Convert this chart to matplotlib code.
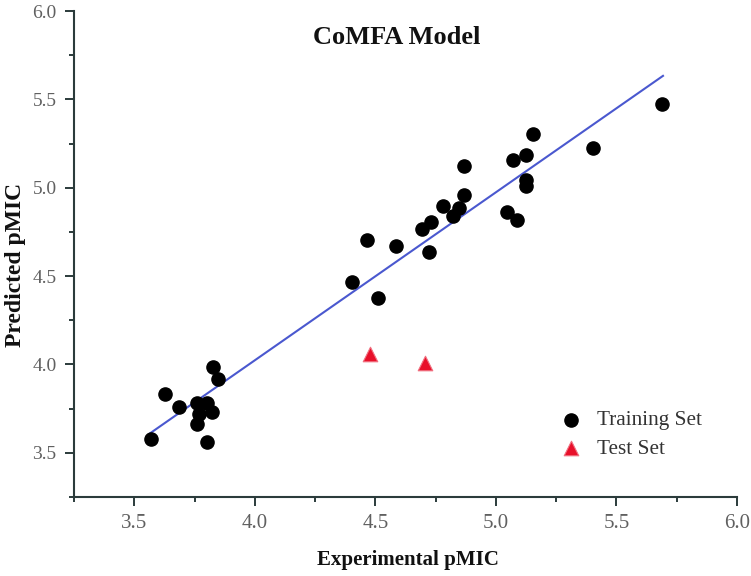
import matplotlib
matplotlib.use("Agg")
import matplotlib.pyplot as plt
from matplotlib.ticker import MultipleLocator, FormatStrFormatter

# Training set (experimental, predicted)
train_exp = [3.568, 3.629, 3.684, 3.759, 3.801, 3.821, 3.770, 3.762, 3.803, 3.828, 3.849,
             4.402, 4.513, 4.465, 4.586, 4.723, 4.693, 4.729, 4.780, 4.848, 4.824,
             4.868, 4.868, 5.069, 5.126, 5.153, 5.126, 5.126, 5.048, 5.089, 5.402, 5.690]
train_pred = [3.581, 3.834, 3.757, 3.784, 3.780, 3.733, 3.718, 3.661, 3.562, 3.985, 3.919,
              4.468, 4.374, 4.705, 4.670, 4.638, 4.765, 4.808, 4.894, 4.888, 4.841,
              4.960, 5.121, 5.159, 5.188, 5.305, 5.045, 5.007, 4.865, 4.816, 5.223, 5.475]

# Test set
test_exp = [4.478, 4.706]
test_pred = [4.059, 4.007]

# Regression line endpoints
line_x = [3.565, 5.693]
line_y = [3.610, 5.633]

tick_vals = [3.5, 4.0, 4.5, 5.0, 5.5, 6.0]

plt.rcParams['font.family'] = ['Liberation Serif', 'DejaVu Serif']

fig = plt.figure(figsize=(7.51, 5.76), dpi=100)
ax = fig.add_axes([74/751, 1-497/576, (737-74)/751, (497-11)/576])

spine_c = '#2b3b3b'
ax.plot(line_x, line_y, color='#4a58cf', lw=1.5, zorder=2)
ax.scatter(train_exp, train_pred, s=90, color='black', zorder=3, label='Training Set')
ax.scatter(test_exp, test_pred, s=110, marker='^', color='#e8102a', edgecolors='#f07080',
           linewidths=0.8, zorder=3, label='Test Set')

ax.set_xlim(3.25, 6.0)
ax.set_ylim(3.25, 6.0)
ax.set_xticks(tick_vals)
ax.set_yticks(tick_vals)
ax.xaxis.set_minor_locator(MultipleLocator(0.25))
ax.yaxis.set_minor_locator(MultipleLocator(0.25))
ax.xaxis.set_major_formatter(FormatStrFormatter('%.1f'))
ax.yaxis.set_major_formatter(FormatStrFormatter('%.1f'))

for s in ['top', 'right']:
    ax.spines[s].set_visible(False)
for s in ['left', 'bottom']:
    ax.spines[s].set_color(spine_c)
    ax.spines[s].set_linewidth(1.5)

ax.tick_params(which='major', direction='out', length=6.5, width=1.4, color=spine_c,
               labelcolor='#606060', pad=6)
ax.tick_params(axis='x', which='major', labelsize=15)
ax.tick_params(axis='y', which='major', labelsize=14)
ax.tick_params(which='minor', direction='out', length=3.5, width=1.4, color=spine_c)

ax.text(4.59, 5.85, 'CoMFA Model', fontsize=19, fontweight='bold', ha='center', va='center',
        color='#111111')

fig.text(408/751, 1-560/576, 'Experimental pMIC', fontsize=15, fontweight='bold',
         ha='center', va='center', color='#111111')
fig.text(16/751, 1-265/576, 'Predicted pMIC', fontsize=17, fontweight='bold',
         ha='center', va='center', rotation=90, color='#111111')

leg = ax.legend(loc='upper left', bbox_to_anchor=((550-74)/663, (497-402)/486),
                frameon=False, fontsize=15.3, handletextpad=0.6, labelspacing=0.4,
                handlelength=1.2, borderaxespad=0)
for t in leg.get_texts():
    t.set_color('#333333')

fig.savefig('out.png', dpi=100)
